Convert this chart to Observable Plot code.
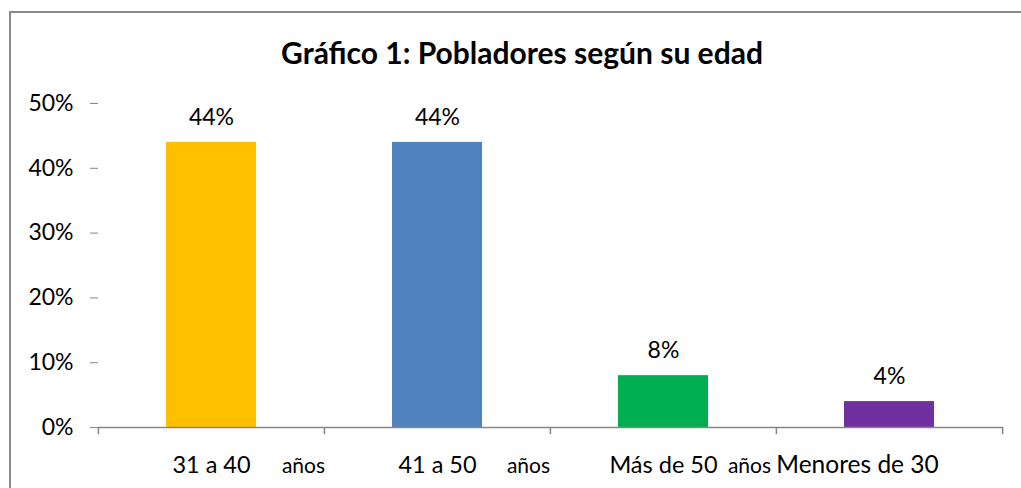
<!DOCTYPE html>
<html>
<head>
<meta charset="utf-8">
<script src="https://cdn.jsdelivr.net/npm/d3@7"></script>
<script src="https://cdn.jsdelivr.net/npm/@observablehq/plot@0.6"></script>
<style>
  html, body { margin: 0; padding: 0; background: #fff; }
  #wrap { position: relative; width: 1021px; height: 488px; overflow: hidden; font-family: Lato, "Open Sans", sans-serif; }
  #frame { position: absolute; left: 9px; top: 11px; width: 1040px; height: 500px; border: 2px solid #8a8a8a; box-sizing: border-box; pointer-events: none; }
  #title { position: absolute; left: 0; width: 1044px; top: 37px; line-height: 30px; text-align: center; font-weight: bold; font-size: 30px; color: #000; }
  #chart { position: absolute; left: 0; top: 0; }
</style>
</head>
<body>
<div id="wrap">
  <div id="chart"></div>
  <div id="frame"></div>
  <div id="title">Gráfico 1: Pobladores según su edad</div>
</div>
<script>
const categories = ["31 a 40", "41 a 50", "Más de 50", "Menores de 30"];
const values = [0.44, 0.44, 0.08, 0.04];
const colors = ["#FFC000", "#4F81BD", "#00B050", "#7030A0"];
const valueLabels = ["44%", "44%", "8%", "4%"];
const suffixCats = ["31 a 40", "41 a 50", "Más de 50"];
const suffixOffsets = [92, 91, 86];
const suffixText = "años";
const yTicks = [0, 0.1, 0.2, 0.3, 0.4, 0.5];

const data = categories.map((c, i) => ({cat: c, value: values[i], label: valueLabels[i]}));
const halfStep = 113.1;
const font = "Lato, 'Open Sans', sans-serif";

const suffixMarks = suffixCats.map((c, i) =>
  Plot.text([c], {x: d => d, y: () => 0, text: () => suffixText, dx: suffixOffsets[i], dy: 39, fontSize: 21, fill: "#000"})
);

const plot = Plot.plot({
  width: 1021,
  height: 488,
  marginTop: 103,
  marginBottom: 61,
  marginLeft: 98,
  marginRight: 18,
  style: {background: "transparent", fontFamily: font, color: "#000"},
  x: {domain: categories, paddingInner: 0.6, paddingOuter: 0.3, axis: null, label: null},
  y: {domain: [0, 0.5], label: null},
  color: {domain: categories, range: colors},
  marks: [
    Plot.barY(data, {x: "cat", y: "value", fill: "cat"}),
    Plot.ruleY([0], {stroke: "#868686", strokeWidth: 1.5}),
    Plot.ruleX(categories, {x: d => d, dx: -halfStep, y1: 0, y2: -0.011, stroke: "#868686", strokeWidth: 1.5}),
    Plot.ruleX([categories[categories.length - 1]], {x: d => d, dx: halfStep, y1: 0, y2: -0.011, stroke: "#868686", strokeWidth: 1.5}),
    Plot.axisY({ticks: yTicks, tickFormat: d3.format(".0%"), tickSize: 8, tickPadding: 17, fontSize: 23, stroke: "#868686", label: null}),
    Plot.text(data, {x: "cat", y: "value", text: "label", dy: -25, fontSize: 23, fill: "#000"}),
    Plot.text(data.slice(0, 3), {x: "cat", y: () => 0, text: "cat", dy: 38, fontSize: 23.5, fill: "#000"}),
    Plot.text(data.slice(3), {x: "cat", y: () => 0, text: "cat", dy: 38, dx: -32, fontSize: 24.5, fill: "#000"}),
    ...suffixMarks
  ]
});
document.getElementById("chart").appendChild(plot);
</script>
</body>
</html>
